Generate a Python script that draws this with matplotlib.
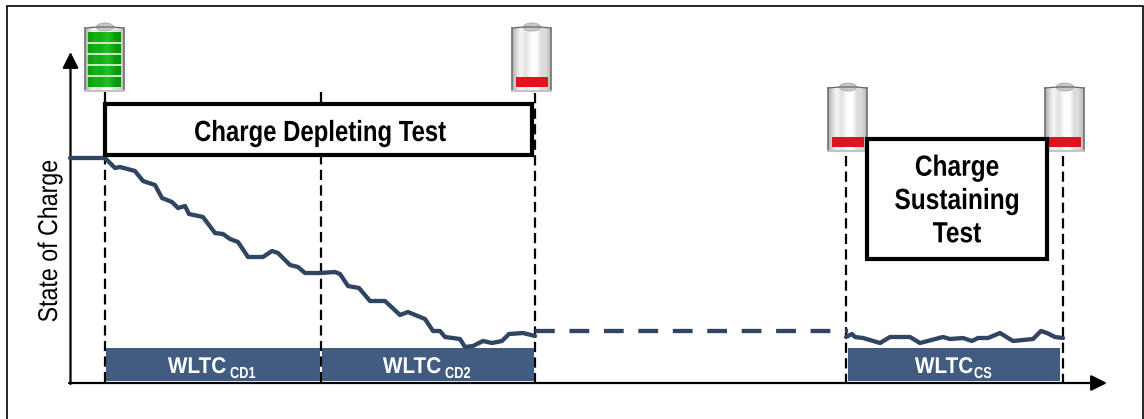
import numpy as np
import matplotlib
matplotlib.use('Agg')
import matplotlib.pyplot as plt
from matplotlib.patches import Rectangle, Ellipse
from matplotlib.patheffects import AbstractPathEffect
from matplotlib.transforms import Affine2D

# picture has no units, everything is read in pixels of the 1144x419 image
cd_x = [70, 105, 110, 115, 120, 135, 143, 155, 162, 172, 178, 185, 189, 203, 215, 223, 230, 238, 248, 263, 272, 278, 290, 298, 305, 320, 335,
        340, 348, 359, 370, 385, 400, 408, 425, 433, 440, 445, 460, 465, 473, 483, 492, 502, 509, 523, 535]
cd_y = [158, 158, 163, 168, 167, 171, 181, 185, 198, 202, 208, 206, 214, 217, 233, 234, 239, 242, 257, 257, 251, 253, 265, 267, 273, 273, 272,
        274, 286, 288, 301, 301, 315, 312, 319, 331, 331, 337, 339, 347, 346, 341, 343, 341, 334, 333, 336]
gap_x = [535, 848]
gap_y = [331, 331]
cs_x = [846, 852, 855, 863, 880, 890, 910, 920, 943, 950, 963, 972, 978, 988, 1000, 1013, 1033, 1041, 1047, 1055, 1063]
cs_y = [337, 334, 337, 338, 343, 337, 337, 343, 337, 339, 338, 341, 338, 338, 333, 341, 339, 331, 333, 337, 338]

guide_x = [105, 321, 535, 846, 1063]
guide_top = [92, 92, 93, 156, 156]
axis_y = 383

phase_left = [106, 322, 848]
phase_right = [320, 534, 1060]
phase_labels = ['WLTC', 'WLTC', 'WLTC']
phase_subs = ['CD1', 'CD2', 'CS']
label_shift = [13, 13, 19]
sub_gap = [4, 4, 1]

sans = ['Liberation Sans', 'DejaVu Sans']
navy = '#2f4562'
bar_col = '#415c80'

class Squeeze(AbstractPathEffect):
    # narrow the glyphs around a pixel position, no condensed font is installed
    def __init__(self, s, x=None, y=None):
        super().__init__()
        self.s, self.x, self.y = s, x, y

    def draw_path(self, renderer, gc, tpath, affine, rgbFace=None):
        if self.x is not None:
            t = Affine2D().translate(-self.x, 0).scale(self.s, 1).translate(self.x, 0)
        else:
            t = Affine2D().translate(0, -self.y).scale(1, self.s).translate(0, self.y)
        renderer.draw_path(gc, tpath, affine + t, rgbFace)

fig = plt.figure(figsize=(11.44, 4.19), dpi=100)
ax = fig.add_axes([0, 0, 1, 1])
ax.set_xlim(0, 1144)
ax.set_ylim(419, 0)
ax.axis('off')

ax.add_patch(Rectangle((7, 6), 1136, 430, fc='white', ec='black', lw=1.2))

def battery(x, y, full):
    w, h = 39, 64
    grad = np.array([[0.72, 0.9, 0.98, 0.84, 0.98, 1.0, 1.0, 0.82, 0.9, 0.74]])
    ax.imshow(grad, cmap='gray', vmin=0, vmax=1, extent=(x, x + w, y + h, y + 1), aspect='auto', zorder=2, interpolation='bicubic')
    ax.add_patch(Ellipse((x + 20, y), 17, 8, fc='#c8c8c8', ec='#a8a8a8', lw=0.6, zorder=2))
    ax.plot([x, x + 12, x + 28, x + w], [y + 1, y, y, y + 1], color='#666666', lw=0.9, zorder=3)
    ax.plot([x, x], [y + 1, y + h], color='#666666', lw=1.1, zorder=3)
    ax.plot([x + w, x + w], [y + 1, y + h], color='#666666', lw=1.1, zorder=3)
    ax.plot([x, x + w], [y + h, y + h], color='#c4c4c4', lw=1.5, zorder=3)
    if full:
        green = np.array([[[0.05, 0.62, 0.05], [0.1, 0.72, 0.1], [0.05, 0.66, 0.05], [0.18, 0.78, 0.18], [0.05, 0.66, 0.05], [0.03, 0.58, 0.03]]])
        ax.imshow(green, extent=(x + 3, x + w - 3, y + 60, y + 5), aspect='auto', zorder=3, interpolation='bicubic')
        for k in range(1, 5):
            ax.plot([x + 3, x + w - 3], [y + 5 + k * 11] * 2, color='#d9efd9', lw=1.3, zorder=4)
    else:
        ax.add_patch(Rectangle((x + 4, y + 50), w - 7, 10, fc='#e0141e', ec='none', zorder=3))

battery(85, 27, True)
battery(512, 27, False)
battery(828, 87, False)
battery(1045, 87, False)

for gx, gt in zip(guide_x, guide_top):
    ax.plot([gx, gx], [gt, axis_y], color='black', lw=1.6, ls=(0, (4.6, 2.4)), zorder=2)

# axes with arrow heads
ax.annotate('', xy=(70.5, 52), xytext=(70.5, axis_y + 1), arrowprops=dict(arrowstyle='-|>', color='black', lw=1.6, mutation_scale=24, shrinkA=0, shrinkB=0))
ax.annotate('', xy=(1107, axis_y), xytext=(69, axis_y), arrowprops=dict(arrowstyle='-|>', color='black', lw=1.6, mutation_scale=24, shrinkA=0, shrinkB=0))

for left, right, lab, sub, shift, gap in zip(phase_left, phase_right, phase_labels, phase_subs, label_shift, sub_gap):
    ax.add_patch(Rectangle((left, 348), right - left, 33, fc=bar_col, ec='none', zorder=3))
    tx = (left + right) / 2 + shift
    ax.text(tx, 373, lab, color='white', fontsize=16.4, fontweight='bold', family=sans, ha='right', va='baseline', zorder=4,
            path_effects=[Squeeze(0.91, x=tx)])
    ax.text(tx + gap, 378, sub, color='white', fontsize=11.5, fontweight='bold', family=sans, ha='left', va='baseline', zorder=4,
            path_effects=[Squeeze(0.8, x=tx + gap)])

ax.plot(cd_x, cd_y, color=navy, lw=3.1, solid_joinstyle='round', solid_capstyle='round', zorder=5)
ax.plot(gap_x, gap_y, color=navy, lw=3.1, ls=(0, (4.6, 3.4)), zorder=5)
ax.plot(cs_x, cs_y, color=navy, lw=3.1, solid_joinstyle='round', solid_capstyle='round', zorder=5)

ax.add_patch(Rectangle((105, 104), 427, 51, fc='white', ec='black', lw=3, zorder=6))
ax.add_patch(Rectangle((867, 139), 180, 120, fc='white', ec='black', lw=3, zorder=6))
ax.text(320, 141, 'Charge Depleting Test', fontsize=21, fontweight='bold', family=sans, ha='center', va='baseline', zorder=7,
        path_effects=[Squeeze(0.82, x=320)])
ax.text(957, 201, 'Charge\nSustaining\nTest', fontsize=21, fontweight='bold', family=sans, ha='center', va='center', linespacing=1.24, zorder=7,
        path_effects=[Squeeze(0.84, x=957)])
ax.text(50, 241, 'State of Charge', fontsize=19.5, family=sans, rotation=90, ha='center', va='center',
        path_effects=[Squeeze(0.857, y=419 - 241)])

ax.set_xlim(0, 1144)
ax.set_ylim(419, 0)
fig.savefig('out.png', dpi=100)
